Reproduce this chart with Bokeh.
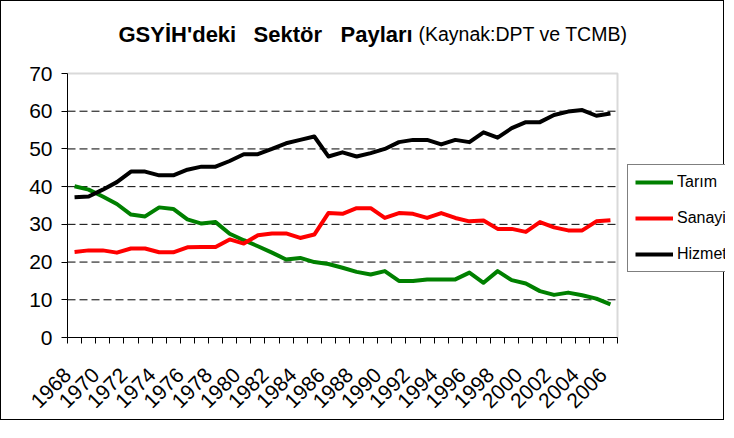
from bokeh.plotting import figure
from bokeh.models import (Range1d, FixedTicker, Legend, LegendItem, Label,
                          ColumnDataSource, BoxAnnotation)
from bokeh.embed import file_html
from bokeh.resources import INLINE
import math

years = list(range(1968, 2007))
tarim = [40.1, 39.2, 37.4, 35.4, 32.6, 32.1, 34.5, 34.1, 31.3, 30.2, 30.6, 27.5,
         25.8, 24.2, 22.5, 20.7, 21.1, 20.0, 19.5, 18.5, 17.4, 16.7, 17.6, 15.0,
         15.0, 15.4, 15.4, 15.4, 17.2, 14.5, 17.6, 15.2, 14.3, 12.3, 11.3, 11.9,
         11.2, 10.3, 8.8]
sanayi = [22.7, 23.1, 23.1, 22.5, 23.6, 23.6, 22.6, 22.6, 23.9, 24.0, 24.0, 26.0,
          24.9, 27.1, 27.6, 27.6, 26.4, 27.3, 33.0, 32.8, 34.3, 34.3, 31.7, 33.0,
          32.8, 31.7, 33.0, 31.7, 30.8, 31.0, 28.8, 28.8, 28.0, 30.6, 29.2, 28.4,
          28.4, 30.8, 31.1]
hizmet = [37.2, 37.4, 39.2, 41.2, 44.0, 44.0, 43.0, 43.0, 44.5, 45.3, 45.3, 46.8,
          48.6, 48.6, 50.0, 51.5, 52.4, 53.3, 48.0, 49.1, 48.0, 48.9, 50.0, 51.8,
          52.4, 52.4, 51.2, 52.4, 51.8, 54.4, 53.0, 55.5, 57.1, 57.1, 59.0, 59.9,
          60.3, 58.8, 59.4]
series_names = ["Tarım", "Sanayi", "Hizmet"]
series_colors = ["#008000", "#FF0000", "#000000"]
y_ticks = [0, 10, 20, 30, 40, 50, 60, 70]
x_label_years = list(range(1968, 2007, 2))

title_bold_words = ["GSYİH'deki", "Sektör", "Payları"]
title_normal = "(Kaynak:DPT ve TCMB)"

FONT = "Liberation Sans"
TICK_FONT = "Liberation Sans Narrow, Liberation Sans"

# canvas geometry (pixels)
W, H = 724, 420
LEFT, BOTTOM = 66, 84
PLOT_W, PLOT_H = 550, 264          # the chart's plot area
FRAME_W, FRAME_H = W - LEFT, H - BOTTOM

x0, x1 = years[0] - 0.5, years[-1] + 0.5
y0, y1 = y_ticks[0], y_ticks[-1]
x_end = x0 + (x1 - x0) * FRAME_W / PLOT_W
y_end = y0 + (y1 - y0) * FRAME_H / PLOT_H

source = ColumnDataSource(dict(year=years, tarim=tarim, sanayi=sanayi, hizmet=hizmet))

p = figure(width=W, height=H, output_backend="svg", toolbar_location=None,
           x_range=Range1d(x0, x_end), y_range=Range1d(y0, y_end),
           min_border_left=LEFT, min_border_right=0,
           min_border_top=0, min_border_bottom=BOTTOM)
p.styles = {"border": "1px solid black"}
p.background_fill_color = "white"
p.border_fill_color = "white"
p.outline_line_color = None
p.xgrid.visible = False
p.ygrid.visible = False

# y axis
p.yaxis.bounds = (y0, y1)
p.yaxis.ticker = FixedTicker(ticks=y_ticks)
p.yaxis.minor_tick_line_color = None
p.yaxis.major_tick_out = 6
p.yaxis.major_tick_in = 0
p.yaxis.major_label_standoff = 9
p.yaxis.major_label_text_font = TICK_FONT
p.yaxis.major_label_text_font_size = "21px"
p.yaxis.major_label_text_color = "black"
p.yaxis.axis_line_color = "black"
p.yaxis.major_tick_line_color = "black"

# x axis: tick marks on category boundaries, labels every second year
boundaries = [y - 0.5 for y in years] + [years[-1] + 0.5]
LABEL_SHIFT = 0.5   # nudges rotated labels so that their ends sit at the category
label_pos = [y - LABEL_SHIFT for y in x_label_years]
p.xaxis.bounds = (x0, x1)
p.xaxis.ticker = FixedTicker(ticks=label_pos, minor_ticks=boundaries)
p.xaxis.major_label_overrides = {pos: str(y) for pos, y in zip(label_pos, x_label_years)}
p.xaxis.major_tick_out = 0
p.xaxis.major_tick_in = 0
p.xaxis.minor_tick_out = 6
p.xaxis.minor_tick_in = 0
p.xaxis.minor_tick_line_color = "black"
p.xaxis.major_label_orientation = math.pi / 4
p.xaxis.major_label_standoff = 28
p.xaxis.major_label_text_font = TICK_FONT
p.xaxis.major_label_text_font_size = "21px"
p.xaxis.major_label_text_color = "black"
p.xaxis.axis_line_color = "black"

# plot-area border (grey top and right edge)
p.add_layout(BoxAnnotation(left=x0 - 2, right=x1, bottom=y0 - 5, top=y1,
                           fill_alpha=0, line_color="#808080", line_width=2,
                           level="underlay"))

# dashed horizontal gridlines inside the plot area
grid_y = y_ticks[1:-1]
p.segment(x0=[x0] * len(grid_y), x1=[x1] * len(grid_y), y0=grid_y, y1=grid_y,
          line_color="black", line_width=1, line_dash="8 4")

renderers = []
for col, color in zip(["tarim", "sanayi", "hizmet"], series_colors):
    r = p.line("year", col, source=source, line_color=color, line_width=4,
               line_join="round")
    renderers.append(r)

legend = Legend(items=[LegendItem(label=n, renderers=[r])
                       for n, r in zip(series_names, renderers)],
                location=(560, 65))
legend.border_line_color = "black"
legend.border_line_width = 1
legend.background_fill_color = "white"
legend.background_fill_alpha = 1
legend.padding = 7
legend.margin = 0
legend.spacing = 16
legend.glyph_width = 38
legend.glyph_height = 20
legend.label_height = 20
legend.label_standoff = 4
legend.label_text_font = FONT
legend.label_text_font_size = "16px"
legend.label_text_color = "black"
p.add_layout(legend, "center")

# title (screen offsets from the frame's bottom-left corner)
TITLE_Y = 303.5
bold_x = [51, 186, 273]
for word, x in zip(title_bold_words, bold_x):
    p.add_layout(Label(x=x, y=TITLE_Y, x_units="screen", y_units="screen", text=word,
                       text_font=FONT, text_font_size="22px", text_font_style="bold",
                       text_baseline="alphabetic", text_color="black"))
p.add_layout(Label(x=351, y=TITLE_Y, x_units="screen", y_units="screen", text=title_normal,
                   text_font=FONT, text_font_size="19.5px",
                   text_baseline="alphabetic", text_color="black"))

open("out.html", "w").write(file_html(p, INLINE))
